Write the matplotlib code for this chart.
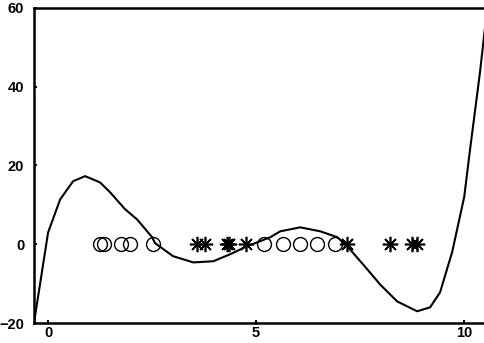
import numpy as np
import matplotlib.pyplot as plt

# curve
curve_x = [-0.34, 0.0, 0.29, 0.6, 0.89, 1.25, 1.49, 1.85, 2.14, 2.5, 2.57, 3.0, 3.49,
           3.97, 4.38, 4.78, 5.1, 5.34, 5.58, 6.06, 6.54, 6.95, 7.19, 7.57, 7.98, 8.39,
           8.87, 9.18, 9.42, 9.71, 10.0, 10.14, 10.38, 10.5]
curve_y = [-20, 3.0, 11.4, 16.0, 17.3, 15.7, 13.2, 8.9, 6.3, 1.8, 0.3, -3.0, -4.6,
           -4.3, -2.5, -0.5, 0.8, 1.8, 3.3, 4.3, 3.3, 1.8, -0.5, -5.1, -10.2, -14.5,
           -17.0, -16.0, -12.2, -2.0, 12.0, 24.0, 43.7, 55.0]

circle_x = [1.25, 1.35, 1.75, 1.97, 2.52, 5.19, 5.65, 6.06, 6.47, 6.90]
star_x = [3.58, 3.77, 4.30, 4.35, 4.76, 7.19, 8.22, 8.75, 8.87]

xticks = [0, 5, 10]
yticks = [-20, 0, 20, 40, 60]

plt.rcParams['font.family'] = ['Liberation Sans', 'DejaVu Sans']

fig = plt.figure(figsize=(4.85, 3.43), dpi=100)
ax = fig.add_axes([0.070, 0.058, 0.930, 0.919])

ax.plot(curve_x, curve_y, color='black', lw=1.5)
ax.plot(circle_x, np.zeros(len(circle_x)), linestyle='none', marker='o', ms=10,
        mfc='none', mec='black', mew=1.0)
ax.plot(star_x, np.zeros(len(star_x)), linestyle='none', marker=(8, 2, 0), ms=11,
        color='black', mew=1.2)

ax.set_xlim(-0.34, 10.5)
ax.set_ylim(-20, 60)
ax.set_xticks(xticks)
ax.set_yticks(yticks)
ax.tick_params(direction='in', length=2, width=1.5, labelsize=10.5)
ax.tick_params(axis='x', pad=2)
ax.tick_params(axis='y', pad=7)
for lab in ax.get_xticklabels() + ax.get_yticklabels():
    lab.set_fontweight('bold')
ax.spines['right'].set_visible(False)
for s in ['left', 'bottom', 'top']:
    ax.spines[s].set_linewidth(1.8)

fig.savefig('out.png', dpi=100)
